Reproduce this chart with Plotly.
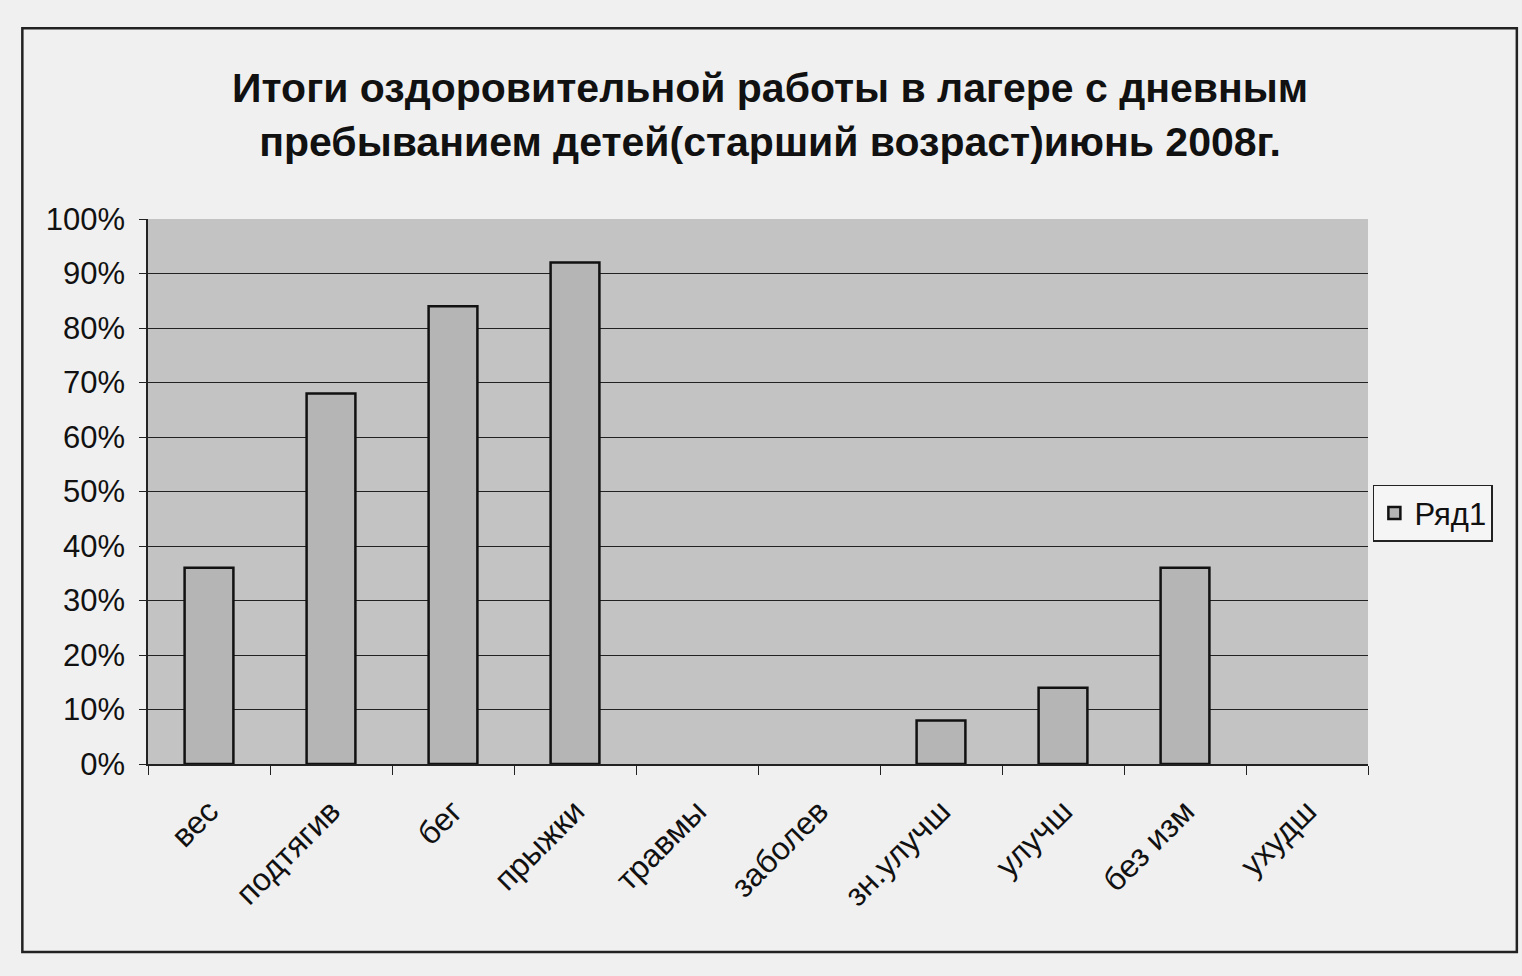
import plotly.graph_objects as go

categories = ["вес", "подтягив", "бег", "прыжки", "травмы", "заболев",
              "зн.улучш", "улучш", "без изм", "ухудш"]
values = [0.36, 0.68, 0.84, 0.92, 0.0, 0.0, 0.08, 0.14, 0.36, 0.0]
series_name = "Ряд1"
title_text = ("Итоги оздоровительной работы в лагере с дневным<br>"
              "пребыванием детей(старший возраст)июнь 2008г.")

FONT = "Liberation Sans, Arial, sans-serif"

line_widths = [2.5 if v > 0 else 0 for v in values]

fig = go.Figure()
fig.add_trace(go.Bar(
    x=categories, y=values, name=series_name,
    marker=dict(color="#b5b5b5", line=dict(color="#111111", width=line_widths)),
    showlegend=True,
))

fig.update_layout(
    width=1522, height=976,
    margin=dict(l=148, r=154, t=219, b=212),
    paper_bgcolor="#f0f0f0",
    plot_bgcolor="#c3c3c3",
    bargap=0.6,
    title=dict(text="<b>" + title_text + "</b>", x=0.506, xanchor="center",
               y=0.895, yanchor="top",
               font=dict(family=FONT, size=41, color="#111111")),
    font=dict(family=FONT, color="#111111"),
    legend=dict(x=1.004, y=0.46, xanchor="left", yanchor="middle",
                bgcolor="#f5f5f5", bordercolor="#222222", borderwidth=1.5,
                font=dict(family=FONT, size=31, color="#111111")),
    xaxis=dict(
        type="category", tickangle=-45, tickson="boundaries",
        ticks="outside", ticklen=9, tickcolor="#222222", tickwidth=1,
        showline=True, linecolor="#222222", linewidth=1.5,
        showgrid=False, ticklabelstandoff=14,
        tickfont=dict(family=FONT, size=32, color="#111111"),
    ),
    yaxis=dict(
        range=[0, 1], dtick=0.1, tickformat=".0%",
        ticks="outside", ticklen=7, tickcolor="#222222",
        showline=True, linecolor="#222222", linewidth=1.5,
        showgrid=True, gridcolor="#222222", gridwidth=1,
        zeroline=False, ticklabelstandoff=8,
        tickfont=dict(family=FONT, size=31, color="#111111"),
    ),
    shapes=[dict(type="rect", xref="paper", yref="paper",
                 x0=-0.103, x1=1.122, y0=-0.345, y1=1.35,
                 line=dict(color="#222222", width=2.5), layer="below")],
)

fig.write_html("out.html")
